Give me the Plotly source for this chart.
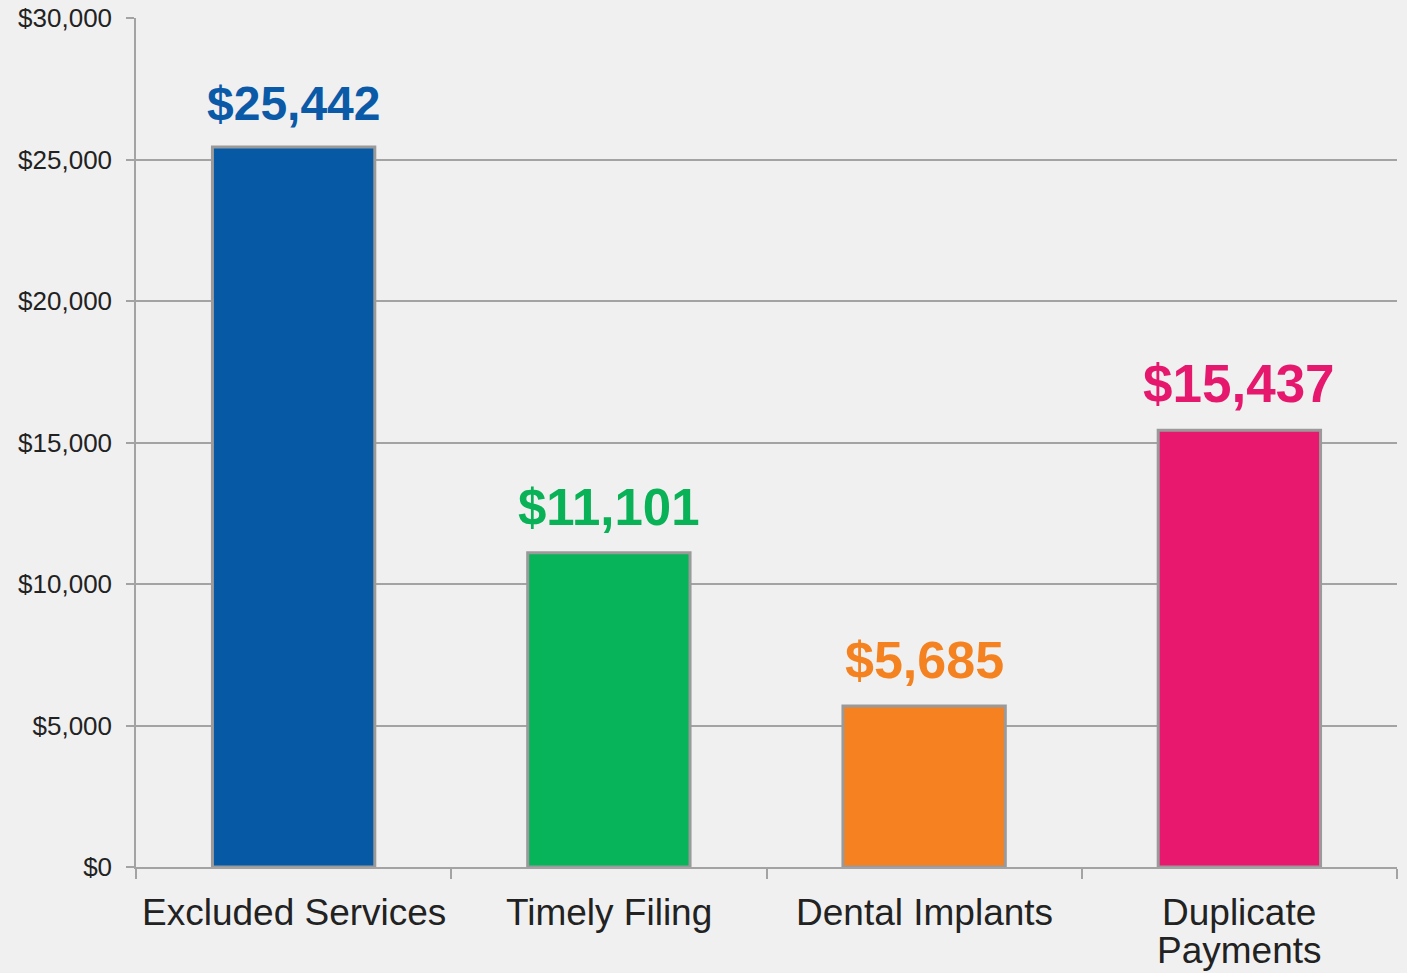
import plotly.graph_objects as go

categories = ["Excluded Services", "Timely Filing", "Dental Implants", "Duplicate Payments"]
label_lines = [["Excluded Services"], ["Timely Filing"], ["Dental Implants"], ["Duplicate", "Payments"]]
values = [25442, 11101, 5685, 15437]
bar_colors = ["#0659a5", "#07b45a", "#f68121", "#e8186f"]
label_colors = ["#0a5aa8", "#09b157", "#f58220", "#e5186e"]
label_font_sizes = [48, 51, 52, 53]
y_tickvals = [0, 5000, 10000, 15000, 20000, 25000, 30000]

FONT = "Arial, 'Liberation Sans', sans-serif"
BG = "#f0f0f0"
GRID = "#a3a3a3"

fig = go.Figure()
fig.add_trace(go.Bar(
    x=categories,
    y=values,
    width=0.515,
    marker=dict(color=bar_colors, line=dict(color="#9a9a9a", width=3)),
    hoverinfo="skip",
))

for cat, val, col, fs in zip(categories, values, label_colors, label_font_sizes):
    fig.add_annotation(
        x=cat, y=val, xref="x", yref="y",
        text="<b>${:,}</b>".format(val),
        showarrow=False, yanchor="bottom", yshift=15,
        font=dict(family=FONT, size=fs, color=col),
    )

for cat, lines in zip(categories, label_lines):
    for i, line in enumerate(lines):
        fig.add_annotation(
            x=cat, y=0, xref="x", yref="y",
            text=line, showarrow=False, yanchor="middle",
            yshift=-45 - 38 * i,
            font=dict(family=FONT, size=37, color="#222222"),
        )

fig.update_layout(
    width=1407, height=973,
    margin=dict(l=136, r=10, t=18, b=106, autoexpand=False),
    paper_bgcolor=BG, plot_bgcolor=BG,
    showlegend=False,
    bargap=0.485,
)
fig.update_xaxes(
    type="category",
    automargin=False,
    showgrid=False,
    showticklabels=False,
    showline=True, linecolor=GRID, linewidth=1.5,
    ticks="outside", tickson="boundaries", ticklen=10, tickcolor=GRID, tickwidth=1.5,
)
fig.update_yaxes(
    range=[0, 30000],
    automargin=False,
    tickvals=y_tickvals,
    ticktext=["${:,}".format(v) for v in y_tickvals],
    showgrid=True, gridcolor=GRID, gridwidth=1.5,
    showline=True, linecolor=GRID, linewidth=1.5,
    ticks="outside", ticklen=8, tickcolor=GRID, tickwidth=1.5,
    tickfont=dict(family=FONT, size=26, color="#222222"),
    ticklabelstandoff=9,
    zeroline=False,
)

fig.write_html(
    "out.html",
    config={"displayModeBar": False},
    post_script="document.body.style.margin='0';document.body.style.background='%s';" % BG,
)
